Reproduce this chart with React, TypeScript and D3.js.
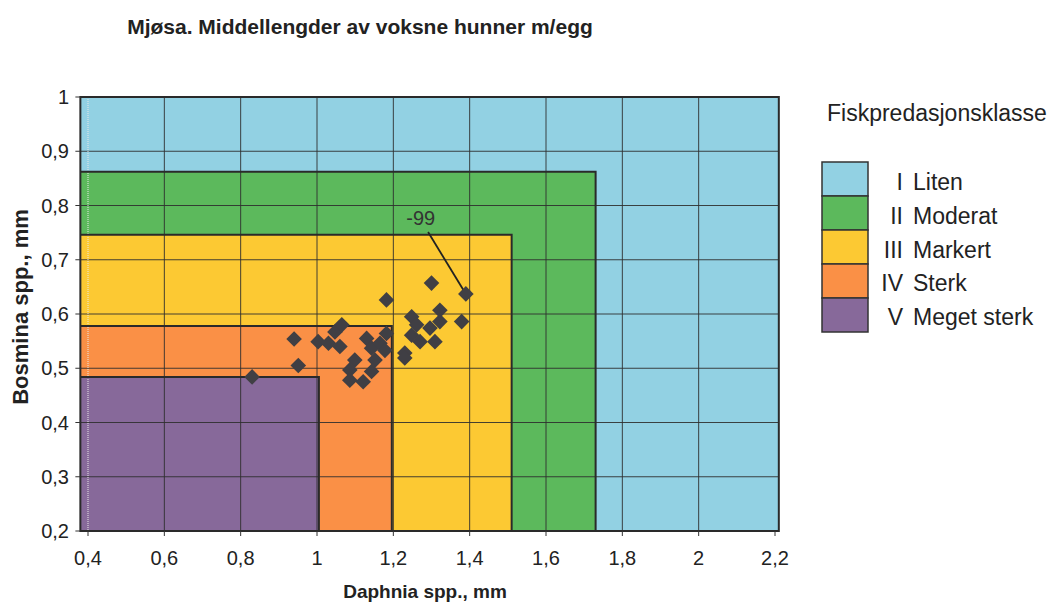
import React from "react";
import * as d3 from "d3";

const xTicks = [0.4, 0.6, 0.8, 1.0, 1.2, 1.4, 1.6, 1.8, 2.0, 2.2];
const yTicks = [0.2, 0.3, 0.4, 0.5, 0.6, 0.7, 0.8, 0.9, 1.0];

const classRoman = ["I", "II", "III", "IV", "V"];
const classNames = ["Liten", "Moderat", "Markert", "Sterk", "Meget sterk"];
const classColors = ["#92d1e3", "#5cb95c", "#fcc933", "#fa9046", "#87699a"];
const classXMax = [2.21, 1.73, 1.51, 1.196, 1.005];
const classYMax = [1.0, 0.862, 0.746, 0.578, 0.484];

const daphnia = [
  0.83, 0.94, 0.951, 1.003, 1.03, 1.047, 1.065, 1.06, 1.099, 1.086, 1.086, 1.121,
  1.13, 1.143, 1.143, 1.152, 1.165, 1.178, 1.182, 1.182, 1.23, 1.23, 1.248, 1.261,
  1.248, 1.27, 1.296, 1.309, 1.322, 1.322, 1.3, 1.379, 1.39,
];
const bosmina = [
  0.484, 0.554, 0.505, 0.549, 0.546, 0.567, 0.58, 0.54, 0.515, 0.497, 0.478, 0.475,
  0.555, 0.537, 0.494, 0.515, 0.546, 0.533, 0.564, 0.626, 0.528, 0.519, 0.595, 0.58,
  0.561, 0.549, 0.574, 0.549, 0.586, 0.607, 0.657, 0.586, 0.637,
];
const labelPoint = { text: "-99", x: 1.39, y: 0.637, lx: 1.291, ly: 0.751, tx: 1.29, ty: 0.764 };

const fmt = (v: number) => String(+v.toFixed(1)).replace(".", ",");

export default function App() {
  const W = 1051, H = 605;
  const x = d3.scaleLinear().domain([0.4, 2.2]).range([88, 775]);
  const y = d3.scaleLinear().domain([0.2, 1.0]).range([531, 97]);
  const x0 = x(0.38);
  const x1 = x(2.21);
  const yb = y(0.2);
  const yt = y(1.0);
  const diamond = d3.symbol().type(d3.symbolSquare).size(122)();
  const font = "'Liberation Sans', Arial, sans-serif";

  return (
    <svg width={W} height={H} style={{ position: "absolute", left: 0, top: 0, background: "#fff" }} fontFamily={font}>
      <text x={360} y={34} textAnchor="middle" fontSize={21} fontWeight="bold" fill="#222">
        Mjøsa. Middellengder av voksne hunner m/egg
      </text>

      {/* class regions */}
      {classColors.map((c, i) => (
        <rect key={"r" + i} x={x0} y={y(classYMax[i])} width={x(classXMax[i]) - x0} height={yb - y(classYMax[i])} fill={c} />
      ))}

      {/* gridlines */}
      {xTicks.slice(1, -1).map((t) => (
        <line key={"gx" + t} x1={x(t)} x2={x(t)} y1={yt} y2={yb} stroke="#2f2f2f" strokeWidth={0.9} />
      ))}
      {yTicks.slice(1, -1).map((t) => (
        <line key={"gy" + t} x1={x0} x2={x1} y1={y(t)} y2={y(t)} stroke="#2f2f2f" strokeWidth={0.9} />
      ))}
      <line x1={x(0.4)} x2={x(0.4)} y1={yt} y2={yb} stroke="#e8e8e8" strokeWidth={1} strokeDasharray="1 1" />

      {/* region borders */}
      {classColors.slice(1).map((c, k) => {
        const i = k + 1;
        const xr = x(classXMax[i]);
        const ytp = y(classYMax[i]);
        return (
          <path key={"b" + i} d={`M${x0},${ytp}H${xr}V${yb}`} fill="none" stroke="#2a2a2a" strokeWidth={2} />
        );
      })}

      {/* frame */}
      <rect x={x0} y={yt} width={x1 - x0} height={yb - yt} fill="none" stroke="#2a2a2a" strokeWidth={2} />

      {/* ticks */}
      {xTicks.map((t) => (
        <g key={"xt" + t}>
          <line x1={x(t)} x2={x(t)} y1={yb} y2={yb + 5} stroke="#333" strokeWidth={1} />
          <text x={x(t)} y={565} textAnchor="middle" fontSize={20} fill="#222">{fmt(t)}</text>
        </g>
      ))}
      {yTicks.map((t) => (
        <g key={"yt" + t}>
          <line x1={x0 - 5} x2={x0} y1={y(t)} y2={y(t)} stroke="#333" strokeWidth={1} />
          <text x={69} y={y(t) + 7} textAnchor="end" fontSize={20} fill="#222">{fmt(t)}</text>
        </g>
      ))}

      {/* annotation */}
      <line x1={x(labelPoint.lx)} y1={y(labelPoint.ly)} x2={x(labelPoint.x)} y2={y(labelPoint.y)} stroke="#222" strokeWidth={1.8} />
      <text x={x(labelPoint.tx) - 7} y={y(labelPoint.ty)} textAnchor="middle" fontSize={20} fill="#333">{labelPoint.text}</text>

      {/* points */}
      {daphnia.map((d, i) => (
        <path key={"p" + i} d={diamond!} transform={`translate(${x(d)},${y(bosmina[i])}) rotate(45)`} fill="#403f44" />
      ))}

      {/* axis titles */}
      <text x={425} y={598} textAnchor="middle" fontSize={19} fontWeight="bold" fill="#222">Daphnia spp., mm</text>
      <text transform={`translate(28,307) rotate(-90)`} textAnchor="middle" fontSize={22} fontWeight="bold" fill="#222">Bosmina spp., mm</text>

      {/* legend */}
      <text x={827} y={121} fontSize={23} fill="#222">Fiskpredasjonsklasse</text>
      {classColors.map((c, i) => (
        <g key={"l" + i}>
          <rect x={822} y={162 + i * 34} width={46} height={34} fill={c} stroke="#333" strokeWidth={1.5} />
          <text x={903} y={190 + i * 33.8} textAnchor="end" fontSize={23} fill="#222">{classRoman[i]}</text>
          <text x={913} y={190 + i * 33.8} fontSize={23} fill="#222">{classNames[i]}</text>
        </g>
      ))}
    </svg>
  );
}
